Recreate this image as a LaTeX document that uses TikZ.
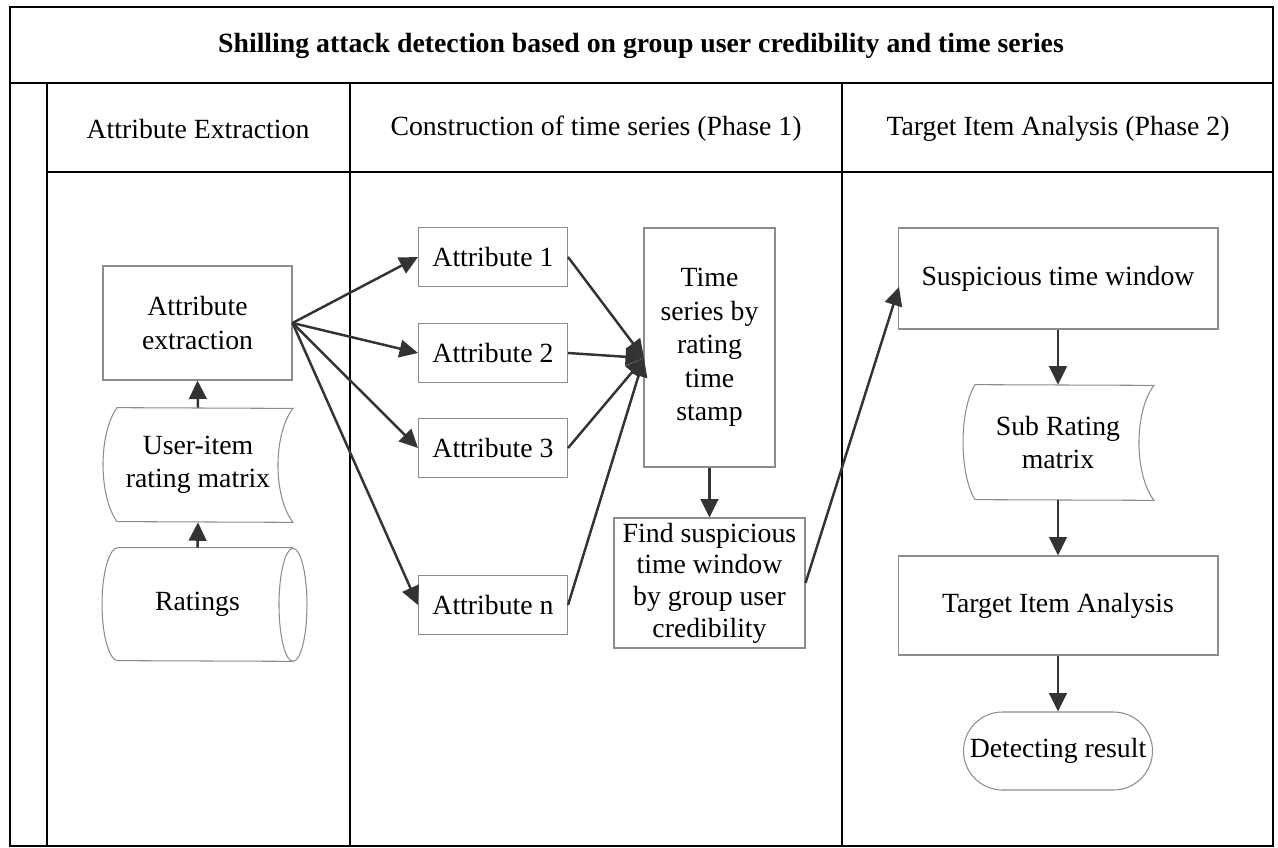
\documentclass[tikz,border=0pt]{standalone}
\usepackage{fontspec}
\setmainfont{Liberation Serif}
\usetikzlibrary{arrows.meta,shapes.misc}
\definecolor{arrowgray}{HTML}{333333}
\definecolor{boxgray}{HTML}{8C8C8C}
\begin{document}
\begin{tikzpicture}
[x=0.02cm,y=-0.02cm,
  font=\fontsize{15.8}{19}\selectfont,
  framedecorate/.style={line width=1.2pt,black},
  boxdecorate/.style={draw=boxgray,line width=0.6pt,align=center,inner sep=0pt},
  textdecorate/.style={align=center,inner sep=0pt},
  outlinedecorate/.style={draw=boxgray,line width=0.6pt},
  arrowdecorate/.style={-{Triangle[length=10.5pt,width=10pt]},line width=1.4pt,draw=arrowgray,fill=arrowgray}]
\useasboundingbox (0,0) rectangle (1278,848);
% frame of the table
\draw[framedecorate] (10,7) rectangle (1273,846);
\draw[framedecorate] (10,83) -- (1273,83);
\draw[framedecorate] (47,172) -- (1273,172);
\draw[framedecorate] (47,83) -- (47,846);
\draw[framedecorate] (350,83) -- (350,846);
\draw[framedecorate] (842,83) -- (842,846);
% headings
\node (title) at (641,46) [textdecorate,font=\fontsize{15.8}{19}\selectfont\bfseries] {Shilling attack detection based on group user credibility and time series};
\node (head1) at (198,129) [textdecorate] {Attribute Extraction};
\node (head2) at (596,129) [textdecorate] {Construction of time series (Phase 1)};
\node (head3) at (1058,129) [textdecorate] {Target Item Analysis (Phase 2)};
% nodes of the first column
\node (attrext) at (197.5,323) [boxdecorate,minimum width=3.78cm,minimum height=2.28cm] {Attribute\\extraction};
\node (uimatrix) at (198,465) [textdecorate,minimum width=3.52cm,minimum height=2.28cm] {User-item\\rating matrix};
\draw[outlinedecorate] ([xshift=-1.62cm]uimatrix.north)
  arc[start angle=120,end angle=240,x radius=0.56cm,y radius=1.316cm] -- ([xshift=1.9cm]uimatrix.south)
  arc[start angle=240,end angle=120,x radius=0.6cm,y radius=1.316cm] -- cycle;
\node (ratings) at (197.5,604.5) [textdecorate,minimum width=3.5cm,minimum height=2.26cm] {Ratings};
\draw[outlinedecorate] ([xshift=1.91cm]ratings.north) -- ([xshift=-1.59cm]ratings.north)
  arc[start angle=90,end angle=270,x radius=0.32cm,y radius=1.13cm] -- ([xshift=1.91cm]ratings.south)
  arc[start angle=-90,end angle=90,x radius=0.28cm,y radius=1.13cm]
  arc[start angle=90,end angle=270,x radius=0.28cm,y radius=1.13cm];
% nodes of the second column
\node (attr1) at (493,257) [boxdecorate,minimum width=2.98cm,minimum height=1.18cm] {Attribute 1};
\node (attr2) at (493,353) [boxdecorate,minimum width=2.98cm,minimum height=1.18cm] {Attribute 2};
\node (attr3) at (493,448) [boxdecorate,minimum width=2.98cm,minimum height=1.18cm] {Attribute 3};
\node (attrn) at (493,605) [boxdecorate,minimum width=2.98cm,minimum height=1.18cm] {Attribute n};
\node (tseries) at (709.5,347.5) [boxdecorate,minimum width=2.62cm,minimum height=4.78cm] {Time\\series by\\rating\\time\\stamp};
\node (findwin) at (709.5,583) [boxdecorate,minimum width=3.82cm,minimum height=2.6cm,font=\fontsize{15.8}{18}\selectfont] {Find suspicious\\time window\\by group user\\credibility};
\coordinate (tsin) at (644,358);
% nodes of the third column
\node (susp) at (1058,278.5) [boxdecorate,minimum width=6.4cm,minimum height=2.02cm] {Suspicious time window};
\coordinate (suspin) at (899,287);
\node (submatrix) at (1058,442.5) [textdecorate,minimum width=3.52cm,minimum height=2.3cm] {Sub Rating\\matrix};
\draw[outlinedecorate] ([xshift=-1.66cm]submatrix.north)
  arc[start angle=120,end angle=240,x radius=0.48cm,y radius=1.328cm] -- ([xshift=1.92cm]submatrix.south)
  arc[start angle=240,end angle=120,x radius=0.6cm,y radius=1.328cm] -- cycle;
\node (target) at (1058,605.5) [boxdecorate,minimum width=6.4cm,minimum height=1.98cm] {Target Item Analysis};
\node (result) at (1058,751) [rounded rectangle,draw=boxgray,line width=0.6pt,minimum width=3.78cm,minimum height=1.56cm,inner sep=0pt] {Detecting result};
% arrows
\path
(ratings.north) edge[arrowdecorate] (uimatrix.south)
(uimatrix.north) edge[arrowdecorate] (attrext.south)
(attrext.east) edge[arrowdecorate] (attr1.west)
(attrext.east) edge[arrowdecorate] (attr2.west)
(attrext.east) edge[arrowdecorate] (attr3.west)
(attrext.east) edge[arrowdecorate] (attrn.west)
(attr1.east) edge[arrowdecorate] (tsin)
(attr2.east) edge[arrowdecorate] (tsin)
(attr3.east) edge[arrowdecorate] (tsin)
(attrn.east) edge[arrowdecorate] (tsin)
(tseries.south) edge[arrowdecorate] (findwin.north)
(findwin.east) edge[arrowdecorate] (suspin)
(susp.south) edge[arrowdecorate] (submatrix.north)
(submatrix.south) edge[arrowdecorate] (target.north)
(target.south) edge[arrowdecorate] (result.north);
\end{tikzpicture}
\end{document}
